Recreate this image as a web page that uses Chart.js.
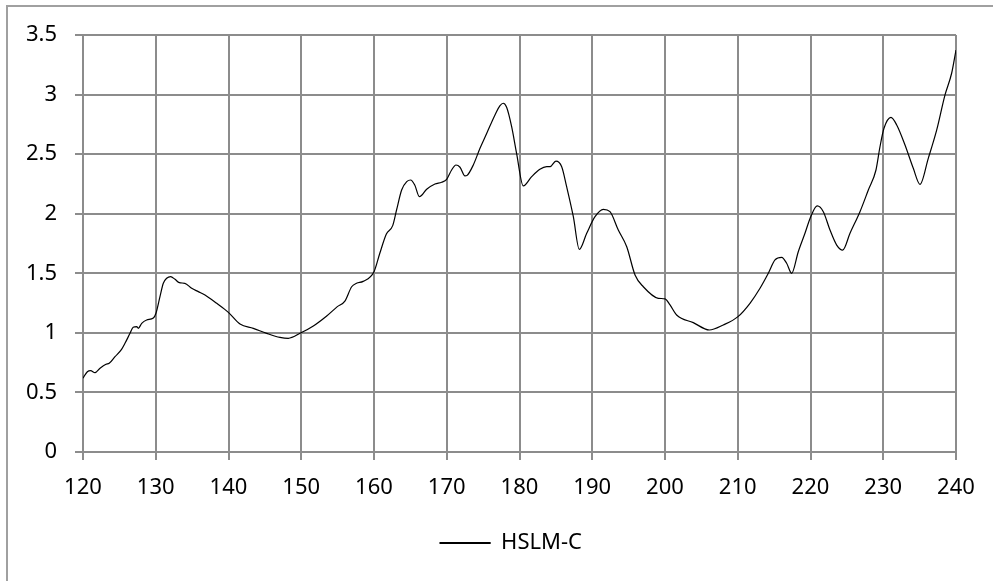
<!DOCTYPE html>
<html lang="en">
<head>
  <meta charset="UTF-8">
  <title>HSLM-C</title>
  <script src="https://cdn.jsdelivr.net/npm/chart.js"></script>
  <style>
    html, body { margin: 0; padding: 0; background: #fff; overflow: hidden; }
    #frame { position: absolute; left: 6px; top: 5px; width: 1200px; height: 1200px; border-left: 2px solid #a0a0a0; border-top: 2px solid #a0a0a0; }
    #chart { position: absolute; left: 0; top: 0; }
  </style>
</head>
<body>
<div id="frame"></div>
<canvas id="chart" width="993" height="581"></canvas>
<script>
// HSLM-C curve, sampled along the line
const xs = [120, 120.6, 121.05, 121.65, 122.34, 123.16, 123.6, 124.4, 125.3, 125.77, 126.46, 126.9, 127.4, 127.6, 128.07, 128.75, 129.67, 130.03,
  130.58, 131.04, 131.5, 132.05, 132.65, 133.24, 134.0, 134.94, 135.85, 136.77, 138.38, 139.98, 141.58, 143.41, 145.25, 147.08, 148.22,
  149.83, 151.66, 153.5, 154.96, 156.0, 156.93, 157.6, 158.5, 160.0, 160.8, 161.7, 162.57, 163.1, 163.8, 164.5, 165.03, 165.6, 166.24,
  167.24, 168.38, 169.3, 169.99, 170.67, 171.27, 171.82, 172.5, 172.8, 173.65, 174.57, 175.5, 176.63, 177.32, 177.77, 178.23, 178.92,
  179.6, 180.52, 181.67, 182.8, 183.74, 184.2, 185.0, 185.8, 186.48, 187.4, 188.22, 189.24, 190.38, 191.52, 192.44, 193.58, 194.74,
  195.88, 197.02, 199.08, 200.0, 200.69, 201.6, 203.89, 206.09, 208.01, 210.03, 211.68, 213.06, 214.2, 215.12, 216.04, 216.72, 217.41,
  218.32, 219.24, 220.03, 220.93, 221.76, 222.68, 223.6, 224.43, 225.43, 226.8, 227.95, 229.0, 229.55, 230.1, 231.06, 231.85, 232.99,
  234.13, 235.05, 236.19, 237.35, 238.49, 239.4, 240];
const ys = [0.62, 0.674, 0.683, 0.666, 0.703, 0.736, 0.744, 0.80, 0.862, 0.912, 0.996, 1.047, 1.052, 1.038, 1.08, 1.108, 1.125, 1.165,
  1.304, 1.416, 1.458, 1.472, 1.449, 1.421, 1.416, 1.374, 1.346, 1.318, 1.248, 1.172, 1.074, 1.038, 0.996, 0.962, 0.954,
  0.996, 1.058, 1.142, 1.22, 1.267, 1.387, 1.416, 1.432, 1.513, 1.668, 1.83, 1.9, 2.031, 2.199, 2.269, 2.283, 2.241, 2.143,
  2.205, 2.249, 2.264, 2.289, 2.367, 2.409, 2.39, 2.317, 2.322, 2.409, 2.549, 2.675, 2.829, 2.907, 2.927, 2.893, 2.73,
  2.507, 2.233, 2.311, 2.373, 2.395, 2.395, 2.442, 2.395, 2.227, 1.975, 1.701, 1.836, 1.975, 2.037, 2.017, 1.863, 1.723,
  1.486, 1.387, 1.29, 1.285, 1.234, 1.15, 1.086, 1.024, 1.066, 1.136, 1.248, 1.374, 1.5, 1.612, 1.634, 1.584, 1.5,
  1.681, 1.836, 1.975, 2.065, 2.017, 1.863, 1.737, 1.695, 1.836, 2.017, 2.199, 2.367, 2.562, 2.717, 2.809, 2.745, 2.577,
  2.381, 2.247, 2.465, 2.703, 2.997, 3.179, 3.374];

const xTicks = [120, 130, 140, 150, 160, 170, 180, 190, 200, 210, 220, 230, 240];
const yTicks = [0, 0.5, 1, 1.5, 2, 2.5, 3, 3.5];
const seriesName = 'HSLM-C';

const gridColor = '#8c8c8c';
const font = { family: '"Noto Sans", sans-serif', size: 22 };

// legend box starts a bit right of the canvas edge so the key sits under the plot
const legendShift = {
  id: 'legendShift',
  afterLayout(chart) { chart.legend.left = 66; }
};

new Chart(document.getElementById('chart'), {
  type: 'line',
  data: {
    datasets: [{
      label: seriesName,
      data: xs.map((x, i) => ({ x: x, y: ys[i] })),
      borderColor: '#000',
      backgroundColor: '#000',
      borderWidth: 1.2,
      pointRadius: 0,
      cubicInterpolationMode: 'monotone',
      fill: false
    }]
  },
  plugins: [legendShift],
  options: {
    responsive: false,
    animation: false,
    layout: { padding: { left: 0, right: 37, top: 35, bottom: 17 } },
    plugins: {
      tooltip: { enabled: false },
      legend: {
        position: 'bottom',
        labels: { color: '#000', font: font, boxWidth: 50, boxHeight: 1, padding: 12 }
      }
    },
    scales: {
      x: {
        type: 'linear',
        min: 120, max: 240,
        afterBuildTicks: s => { s.ticks = xTicks.map(v => ({ value: v })); },
        afterFit: s => { s.height = 68; },
        grid: { color: gridColor, lineWidth: 2, tickLength: 8 },
        border: { color: gridColor, width: 2 },
        ticks: { color: '#000', font: font, padding: 15, maxRotation: 0, callback: v => String(v) }
      },
      y: {
        min: 0, max: 3.5,
        afterBuildTicks: s => { s.ticks = yTicks.map(v => ({ value: v })); },
        afterFit: s => { s.width = 83; },
        grid: { color: gridColor, lineWidth: 2, tickLength: 8 },
        border: { color: gridColor, width: 2 },
        ticks: { color: '#000', font: font, padding: 18, callback: v => String(v) }
      }
    }
  }
});
</script>
</body>
</html>
